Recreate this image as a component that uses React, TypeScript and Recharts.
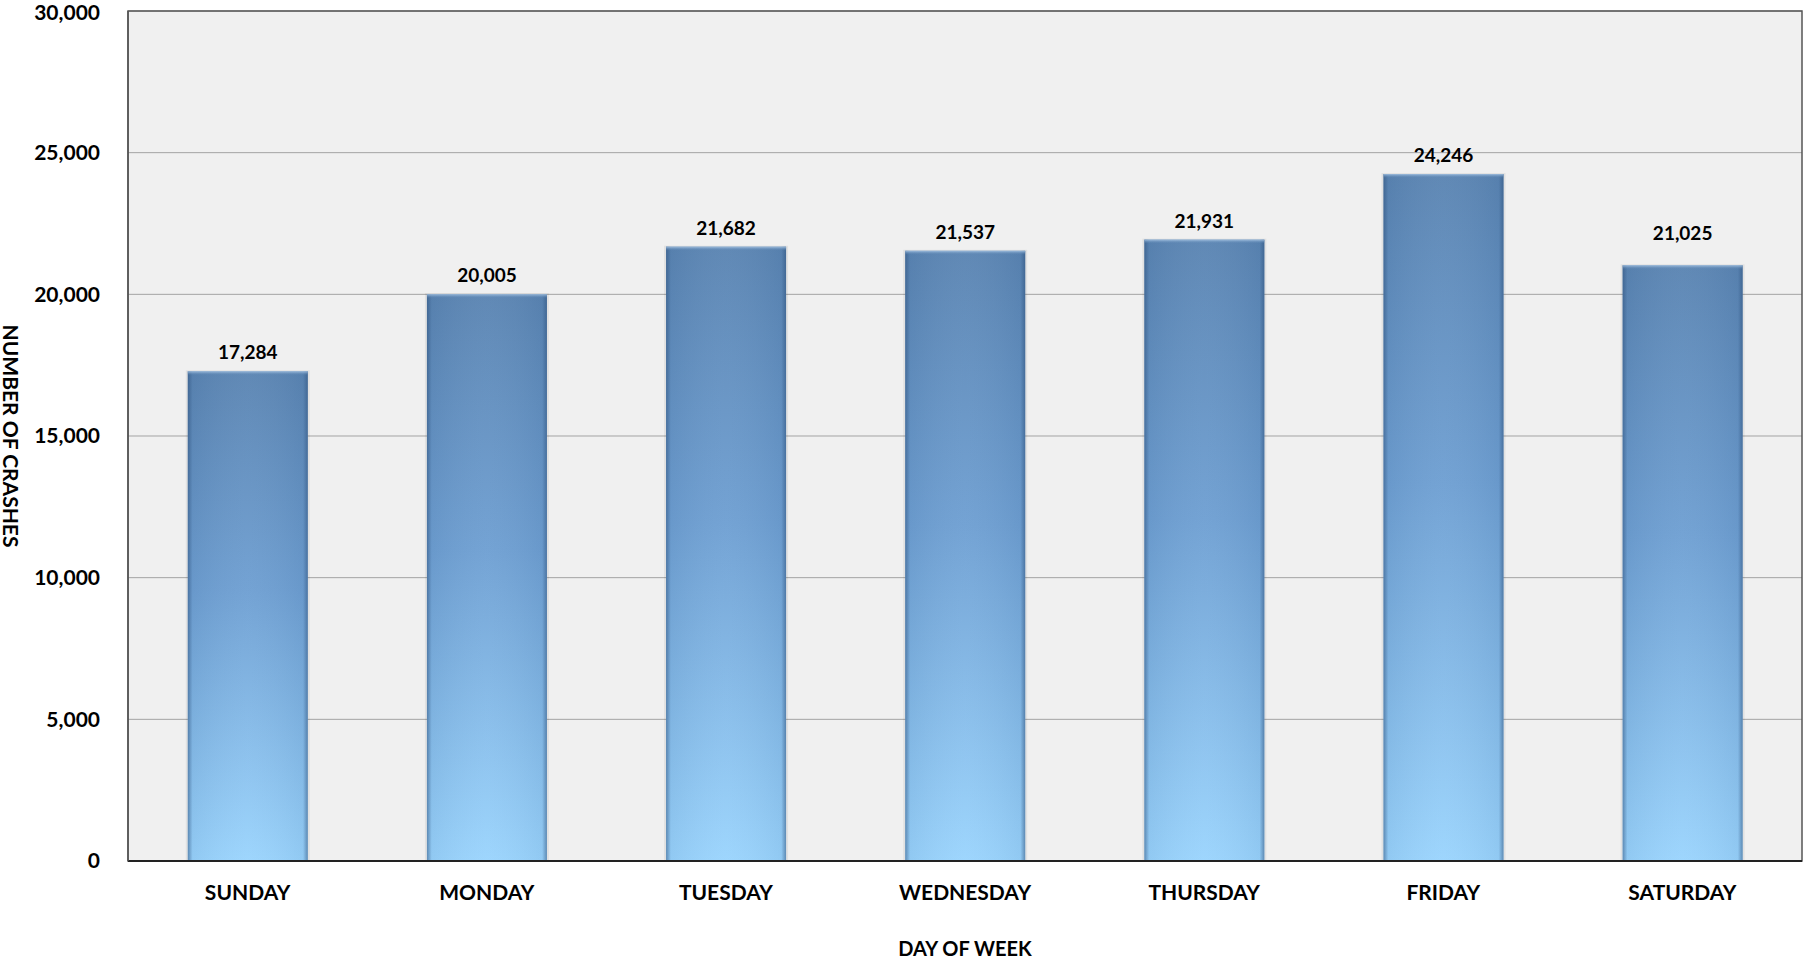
import { BarChart, Bar, XAxis, YAxis, CartesianGrid, LabelList, ReferenceArea, Label } from 'recharts';

const days = ['SUNDAY', 'MONDAY', 'TUESDAY', 'WEDNESDAY', 'THURSDAY', 'FRIDAY', 'SATURDAY'];
const crashes = [17284, 20005, 21682, 21537, 21931, 24246, 21025];
const yTicks = [0, 5000, 10000, 15000, 20000, 25000, 30000];

const data = days.map((day, i) => ({ day, crashes: crashes[i] }));

const FONT = 'Lato, "Open Sans", sans-serif';
const fmt = (v: number) => v.toLocaleString('en-US');

// the Saturday label sits a little higher in the original
const labelLift: Record<number, number> = { 6: 13 };

// bevelled bar, dark top fading to light blue at the base
const BevelBar = (props: any) => {
  const { x, y, width, height } = props;
  if (!height || height <= 0) return null;
  return (
    <g>
      <rect x={x - 2} y={y - 1} width={width + 4} height={height + 1} fill="rgba(0,0,0,0.06)" />
      <rect x={x} y={y} width={width} height={height} fill="url(#barFill)" />
      <rect x={x} y={y} width={width} height={height} fill="url(#barEdges)" />
      <rect x={x} y={y} width={width} height={Math.min(4, height)} fill="url(#barTop)" />
    </g>
  );
};

const ValueLabel = (props: any) => {
  const { x, y, width, value, index } = props;
  const lift = labelLift[index] || 0;
  return (
    <text
      x={x + width / 2}
      y={y - 12 - lift}
      textAnchor="middle"
      fontFamily={FONT}
      fontSize={19}
      fontWeight={700}
      fill="#000"
    >
      {fmt(Number(value))}
    </text>
  );
};

export default function App() {
  return (
    <div style={{ position: 'absolute', left: 0, top: 0, width: 1803, height: 959, background: '#fff' }}>
      <BarChart
        width={1803}
        height={959}
        data={data}
        margin={{ top: 11, right: 1, bottom: 0, left: 0 }}
        barCategoryGap="25%"
      >
        <defs>
          <linearGradient id="barFill" x1="0" y1="0" x2="0" y2="1">
            <stop offset="0%" stopColor="#5a84b2" />
            <stop offset="45%" stopColor="#6e9fd2" />
            <stop offset="100%" stopColor="#9ad4fd" />
          </linearGradient>
          <linearGradient id="barEdges" x1="0" y1="0" x2="1" y2="0">
            <stop offset="0%" stopColor="#2c4f7a" stopOpacity={0.55} />
            <stop offset="4%" stopColor="#2c4f7a" stopOpacity={0.08} />
            <stop offset="50%" stopColor="#ffffff" stopOpacity={0.04} />
            <stop offset="96%" stopColor="#2c4f7a" stopOpacity={0.08} />
            <stop offset="100%" stopColor="#2c4f7a" stopOpacity={0.55} />
          </linearGradient>
          <linearGradient id="barTop" x1="0" y1="0" x2="0" y2="1">
            <stop offset="0%" stopColor="#a9c6e4" stopOpacity={0.9} />
            <stop offset="100%" stopColor="#5a84b2" stopOpacity={0} />
          </linearGradient>
        </defs>
        <CartesianGrid vertical={false} fill="#f0f0f0" stroke="#a3a3a3" strokeWidth={1} />
        <XAxis
          dataKey="day"
          height={98}
          tickSize={0}
          tickMargin={24}
          axisLine={{ stroke: '#222', strokeWidth: 2 }}
          tick={{ fontFamily: FONT, fontSize: 21, fontWeight: 700, fill: '#000' }}
        >
          <Label
            value="DAY OF WEEK"
            position="insideBottom"
            offset={3}
            style={{ fontFamily: FONT, fontSize: 20, fontWeight: 700, fill: '#000' }}
          />
        </XAxis>
        <YAxis
          width={128}
          domain={[0, 30000]}
          ticks={yTicks}
          tickFormatter={fmt}
          tickSize={0}
          tickMargin={28}
          axisLine={{ stroke: '#555', strokeWidth: 1.5 }}
          tick={{ fontFamily: FONT, fontSize: 21, fontWeight: 700, fill: '#000' }}
        >
          <Label
            value="NUMBER OF CRASHES"
            angle={90}
            position="insideLeft"
            offset={10}
            style={{ fontFamily: FONT, fontSize: 21, fontWeight: 700, fill: '#000', textAnchor: 'middle' }}
          />
        </YAxis>
        <Bar dataKey="crashes" shape={<BevelBar />} isAnimationActive={false}>
          <LabelList dataKey="crashes" content={<ValueLabel />} />
        </Bar>
        <ReferenceArea y1={0} y2={30000} fill="none" stroke="#555" strokeWidth={1.5} fillOpacity={0} />
      </BarChart>
    </div>
  );
}
